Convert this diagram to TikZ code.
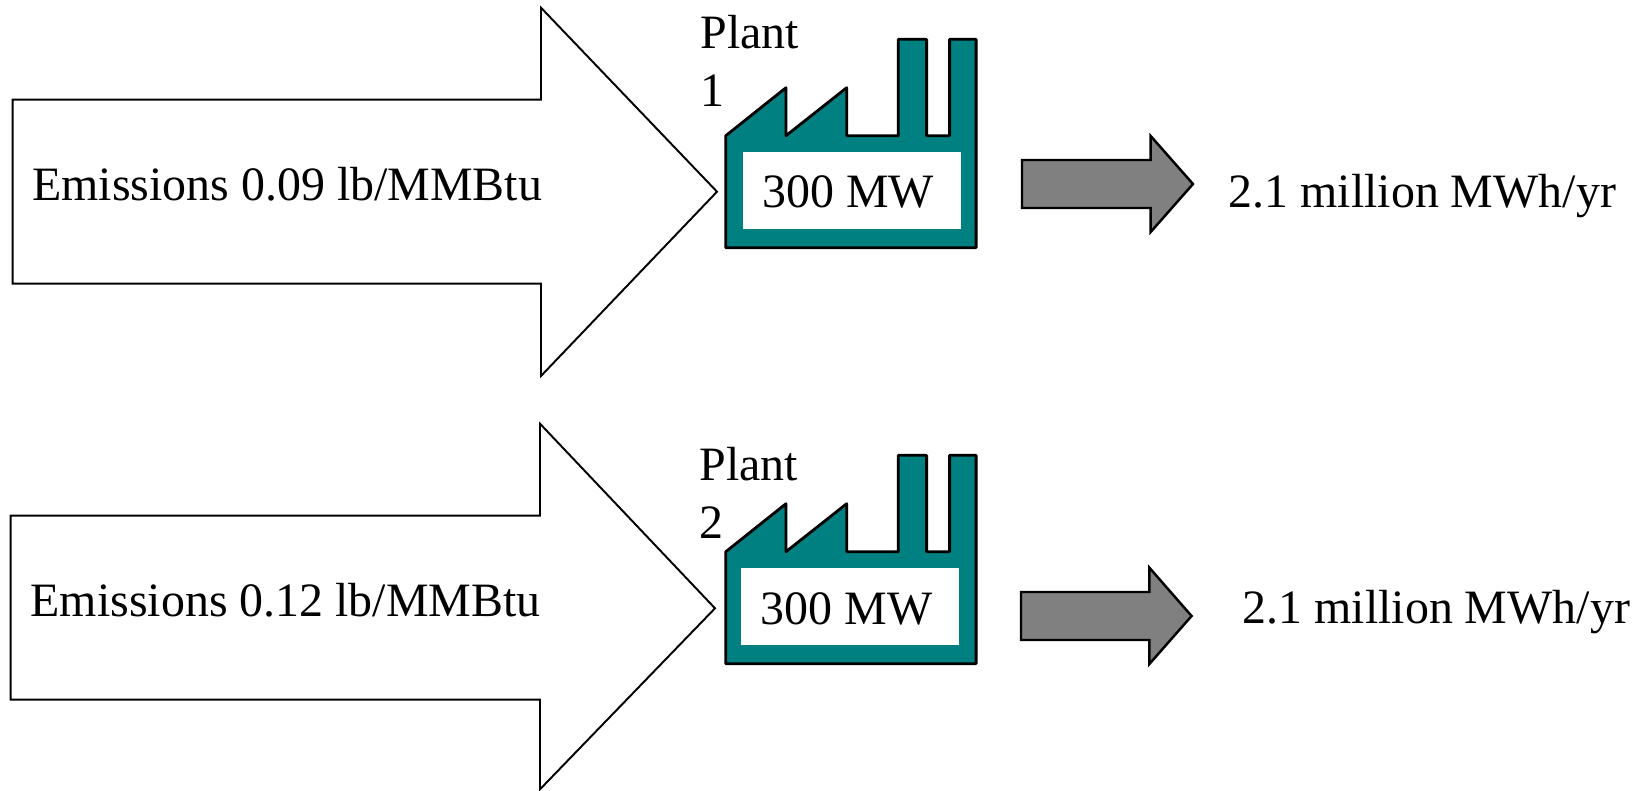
\documentclass[tikz,border=0pt]{standalone}
\usepackage{fontspec}
\setmainfont{Liberation Serif}
\usepackage{xcolor}
\usepackage{tikz}
\definecolor{plantteal}{HTML}{008080}
\definecolor{flowgray}{HTML}{808080}

\begin{document}
\begin{tikzpicture}[x=1cm,y=1cm,line join=round,
  bigtext/.style={font=\fontsize{13.63}{16.4}\selectfont,inner sep=0pt,text=black},
  inflow/.style={draw=black,fill=white,line width=.55pt,line join=miter},
  outflow/.style={draw=black,fill=flowgray,line width=.7pt,line join=miter},
  plantbody/.style={draw=black,fill=plantteal,line width=.8pt}]
  \useasboundingbox (0,0) rectangle (16.44,7.90);
  % Emission arrows.
  \draw[inflow] (.126,6.903)--(5.41,6.903)--(5.41,7.823)--(7.17,5.983)--(5.41,4.14)
    --(5.41,5.063)--(.126,5.063)--cycle;
  \draw[inflow] (.107,2.743)--(5.40,2.743)--(5.40,3.663)--(7.15,1.817)--(5.40,.007)
    --(5.40,.903)--(.107,.903)--cycle;
  \node[bigtext,anchor=base west] (emis1) at (.317,5.893) {Emissions 0.09 lb/MMBtu};
  \node[bigtext,anchor=base west] (emis2) at (.30,1.733) {Emissions 0.12 lb/MMBtu};
  % Factory outlines.
  \foreach \yy/\wx in {0/0,-4.16/-.02}{
    \begin{scope}[shift={(0,\yy)}]
      \draw[plantbody] (7.258,6.543)--(7.86,7.023)--(7.86,6.543)--(8.467,7.023)
        --(8.467,6.543)--(8.983,6.543)--(8.983,7.507)--(9.266,7.507)--(9.266,6.543)
        --(9.496,6.543)--(9.496,7.507)--(9.761,7.507)--(9.761,5.423)--(7.258,5.423)--cycle;
      \path[fill=white] (7.43+\wx,6.38) rectangle (9.61+\wx,5.613);
    \end{scope}
  }
  \node[bigtext,anchor=base west] (mw1) at (7.615,5.823) {300 MW};
  \node[bigtext,anchor=base west] (mw2) at (7.60,1.66) {300 MW};
  \node[bigtext,anchor=north west,align=left] (plant1) at (7.00,7.755) {Plant\\1};
  \node[bigtext,anchor=north west,align=left] (plant2) at (6.99,3.435) {Plant\\2};
  % Output arrows.
  \draw[outflow] (10.22,6.30)--(11.507,6.30)--(11.507,6.54)--(11.93,6.06)--(11.507,5.58)
    --(11.507,5.82)--(10.22,5.82)--cycle;
  \draw[outflow] (10.21,1.98)--(11.494,1.98)--(11.494,2.223)--(11.916,1.74)--(11.494,1.26)
    --(11.494,1.50)--(10.21,1.50)--cycle;
  \node[bigtext,anchor=base west] (gen1) at (12.28,5.825) {2.1 million MWh/yr};
  \node[bigtext,anchor=base west] (gen2) at (12.42,1.67) {2.1 million MWh/yr};
\end{tikzpicture}
\end{document}
